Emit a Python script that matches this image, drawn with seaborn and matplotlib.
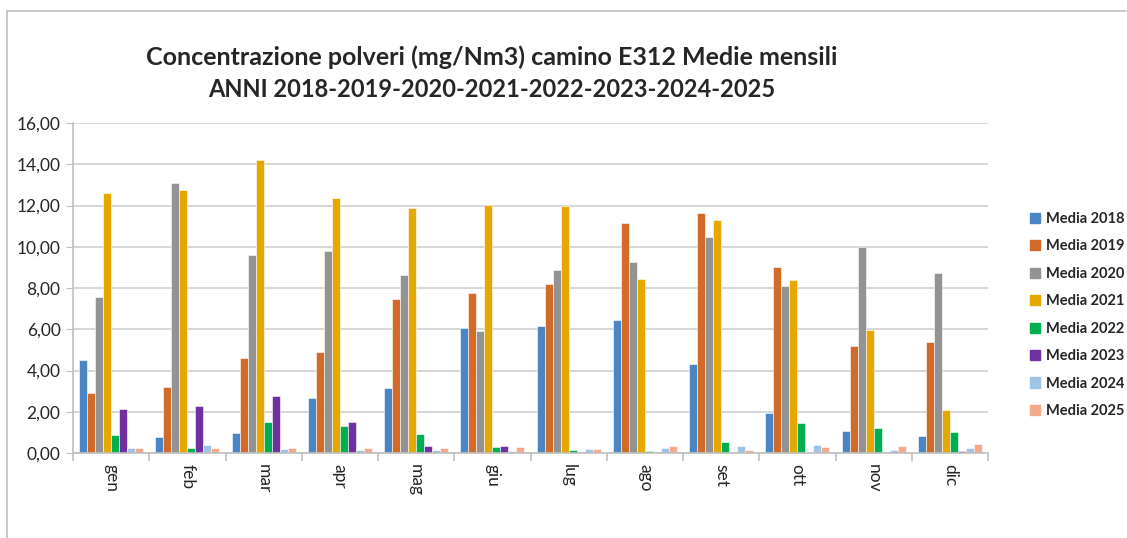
import numpy as np
import pandas as pd
import matplotlib.pyplot as plt
import matplotlib.patches as mpatches
from matplotlib.lines import Line2D
from matplotlib.ticker import FixedLocator, FuncFormatter
import seaborn as sns

mesi = ['gen', 'feb', 'mar', 'apr', 'mag', 'giu', 'lug', 'ago', 'set', 'ott', 'nov', 'dic']
anni = ['Media 2018', 'Media 2019', 'Media 2020', 'Media 2021',
        'Media 2022', 'Media 2023', 'Media 2024', 'Media 2025']

media_2018 = [4.50, 0.79, 0.96, 2.69, 3.16, 6.06, 6.14, 6.46, 4.31, 1.96, 1.07, 0.83]
media_2019 = [2.93, 3.19, 4.60, 4.89, 7.48, 7.77, 8.21, 11.16, 11.64, 9.02, 5.17, 5.39]
media_2020 = [7.55, 13.10, 9.62, 9.78, 8.63, 5.93, 8.86, 9.25, 10.48, 8.11, 9.98, 8.71]
media_2021 = [12.60, 12.75, 14.20, 12.34, 11.90, 12.03, 12.00, 8.44, 11.30, 8.37, 5.98, 2.07]
media_2022 = [0.87, 0.23, 1.50, 1.30, 0.92, 0.28, 0.13, 0.10, 0.53, 1.44, 1.23, 1.04]
media_2023 = [2.14, 2.27, 2.77, 1.49, 0.32, 0.36, 0.0, 0.0, 0.0, 0.0, 0.0, 0.10]
media_2024 = [0.23, 0.39, 0.18, 0.15, 0.15, 0.11, 0.21, 0.24, 0.36, 0.39, 0.16, 0.23]
media_2025 = [0.26, 0.23, 0.26, 0.23, 0.26, 0.28, 0.19, 0.36, 0.16, 0.28, 0.32, 0.42]

colori = ['#4a86c5', '#d36b28', '#939393', '#e5a800',
          '#00b050', '#7030a0', '#9dc3e6', '#f4a98a']

serie = [media_2018, media_2019, media_2020, media_2021,
         media_2022, media_2023, media_2024, media_2025]
df = pd.DataFrame({
    'mese': np.tile(mesi, len(anni)),
    'anno': np.repeat(anni, len(mesi)),
    'valore': np.concatenate(serie),
})

sns.set_style('white')
plt.rcParams['font.family'] = ['Lato', 'DejaVu Sans']

fig = plt.figure(figsize=(11.27, 5.38), dpi=100)
ax = fig.add_axes([73 / 1127, 1 - 453 / 538, (988 - 73) / 1127, (453 - 123) / 538])

sns.barplot(data=df, x='mese', y='valore', hue='anno', palette=colori,
            order=mesi, hue_order=anni, width=0.84, gap=0.0,
            saturation=1, legend=False, ax=ax)
for b in ax.patches:
    b.set_edgecolor('white')
    b.set_linewidth(0.4)

ax.set_ylim(0, 16)
ax.set_xlim(-0.5, 11.5)
ax.set_yticks(np.arange(0, 17, 2))
ax.yaxis.set_major_formatter(FuncFormatter(lambda v, p: f'{v:.2f}'.replace('.', ',')))
ax.grid(axis='y', color='#d0d0d0', linewidth=1.2)
ax.set_axisbelow(True)
ax.set_xlabel('')
ax.set_ylabel('')

for s in ['top', 'right']:
    ax.spines[s].set_visible(False)
ax.spines['left'].set_color('#bfbfbf')
ax.spines['bottom'].set_color('#bfbfbf')
ax.spines['left'].set_linewidth(1.2)
ax.spines['bottom'].set_linewidth(1.2)

ax.tick_params(axis='y', which='major', length=5, color='#bfbfbf', labelsize=12.5, pad=4, left=True)
ax.tick_params(axis='x', which='major', length=0, labelsize=12.5, pad=8)
ax.xaxis.set_minor_locator(FixedLocator(np.arange(-0.5, 12, 1)))
ax.tick_params(axis='x', which='minor', length=6, color='#bfbfbf', width=1.2, bottom=True)
for lab in ax.get_xticklabels():
    lab.set_rotation(-90)

fig.text(0.436, 0.894, 'Concentrazione polveri (mg/Nm3) camino E312 Medie mensili',
         ha='center', va='center', fontsize=18, fontweight='bold')
fig.text(0.436, 0.833, 'ANNI 2018-2019-2020-2021-2022-2023-2024-2025',
         ha='center', va='center', fontsize=17, fontweight='bold')

maniglie = [mpatches.Patch(color=c, label=a) for c, a in zip(colori, anni)]
fig.legend(handles=maniglie, loc='center left', bbox_to_anchor=(1030 / 1127, 1 - 315 / 538),
           frameon=False, prop={'size': 10.5, 'weight': 'bold'}, handlelength=0.7,
           handleheight=0.7, handletextpad=0.4, labelspacing=0.92, borderaxespad=0,
           borderpad=0)

fig.add_artist(Line2D([7 / 1127, 0.999], [1 - 11 / 538, 1 - 11 / 538], transform=fig.transFigure,
                      color='#bfbfbf', linewidth=1.2))
fig.add_artist(Line2D([7 / 1127, 7 / 1127], [0, 1 - 11 / 538], transform=fig.transFigure,
                      color='#bfbfbf', linewidth=1.2))

fig.savefig('out.png', dpi=100, facecolor='white')
